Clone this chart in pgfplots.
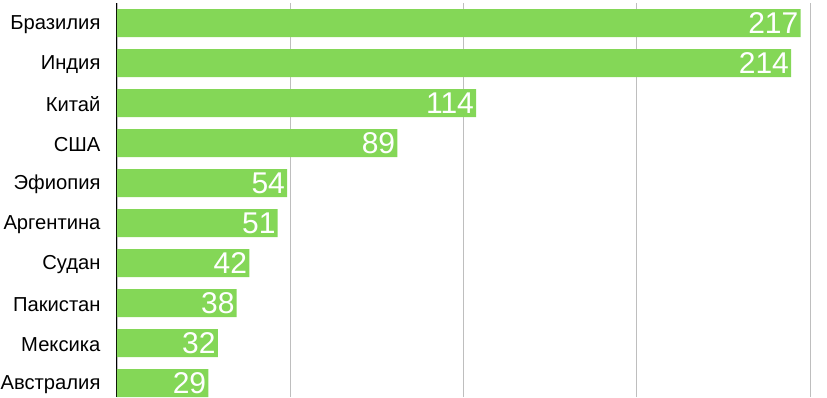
\documentclass[border=0pt]{standalone}
\usepackage{pgfplots}
\pgfplotsset{compat=1.18}
\usepackage{fontspec}
\setmainfont{Liberation Sans}
\definecolor{bargreen}{RGB}{132,215,87}
\definecolor{gridgray}{RGB}{190,190,190}
\begin{document}
\begin{tikzpicture}[x=1pt,y=1pt]
\begin{axis}[
  at={(0,0)}, anchor=south west,
  scale only axis,
  width=693pt, height=394pt,
  xbar, bar width=28pt,
  xmin=0, xmax=220,
  ymin=-0.35, ymax=9.5,
  xtick={0,55,110,165,220},
  xticklabels={},
  xmajorgrids,
  major grid style={gridgray, line width=0.9pt},
  ytick={0,...,9},
  yticklabels={Австралия,Мексика,Пакистан,Судан,Аргентина,Эфиопия,США,Китай,Индия,Бразилия},
  yticklabel style={font=\fontsize{20.2}{21}\selectfont, xshift=-13pt, yshift=-1.5pt},
  major tick length=0pt,
  axis lines=left,
  axis line style={-},
  x axis line style={draw=none},
  y axis line style={black, line width=1pt},
  /pgf/number format/assume math mode=true,
  nodes near coords,
  every node near coord/.append style={anchor=east, white, font=\fontsize{30}{30}\selectfont, inner xsep=1pt, inner ysep=0pt, xshift=-1pt},
  clip=false,
]
\addplot[fill=bargreen, draw=none] coordinates {
(29,0) (32,1) (38,2) (42,3) (51,4) (54,5) (89,6) (114,7) (214,8) (217,9)
};
\end{axis}
\pgfresetboundingbox
\useasboundingbox (-117,0) rectangle (710,397);
\end{tikzpicture}
\end{document}
